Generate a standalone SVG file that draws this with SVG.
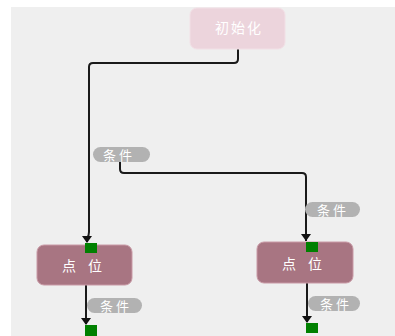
<svg xmlns="http://www.w3.org/2000/svg" width="395" height="336" viewBox="0 0 395 336">
<defs>
<style>
.bg{fill:#efefef}
.init{fill:#ecd4dc;stroke:#f2e0e6;stroke-width:1}
.node{fill:#a87582;stroke:#c99aa6;stroke-width:1}
.ntxt{font-family:"Noto Sans CJK SC","Liberation Sans",sans-serif;font-size:14px;fill:#ffffff;text-anchor:middle}
.itxt{font-family:"Noto Sans CJK SC","Liberation Sans",sans-serif;font-size:14px;fill:#ffffff;text-anchor:middle;letter-spacing:2px}
.pill{fill:#b2b2b2}
.ptxt{font-family:"Noto Sans CJK SC","Liberation Sans",sans-serif;font-size:13px;fill:#ffffff;text-anchor:middle;letter-spacing:3px}
.port{fill:#008000}
.wire{fill:none;stroke:#1a1a1a;stroke-width:2;stroke-linejoin:round}
.head{fill:#111}
</style>
</defs>
<rect x="0" y="0" width="395" height="336" fill="#ffffff"/>
<rect class="bg" x="11" y="7" width="384" height="329"/>

<g id="connectors">
<path class="wire" d="M238,49 V59 Q238,63 234,63 H93 Q89,63 89,67 V232 Q89,236 87,238 V242"/>
<path class="wire" d="M120,158 V169 Q120,173 124,173 H302 Q306,173 306,177 V241"/>
<path class="wire" d="M86,285 V324"/>
<path class="wire" d="M307,283 V322"/>
<path class="head" d="M82,236 L92,236 L87,243 Z"/>
<path class="head" d="M301,234 L311,234 L306,241 Z"/>
<path class="head" d="M81,318 L91,318 L86,325 Z"/>
<path class="head" d="M302,316 L312,316 L307,323 Z"/>
</g>

<g id="init">
<rect class="init" x="190" y="8" width="95" height="41" rx="7"/>
<text class="itxt" x="239" y="33">初始化</text>
</g>

<g id="label1">
<rect class="pill" x="93" y="147" width="57" height="15" rx="7.5"/>
<text class="ptxt" x="119" y="159.5">条件</text>
</g>

<g id="label2">
<rect class="pill" x="305" y="202" width="55" height="15" rx="7.5"/>
<text class="ptxt" x="333" y="214.5">条件</text>
</g>

<g id="node-left">
<rect class="node" x="37" y="245" width="95" height="40" rx="7"/>
<text class="ntxt" x="69" y="271">点</text>
<text class="ntxt" x="95" y="271">位</text>
<rect class="port" x="85" y="243" width="12" height="10"/>
</g>

<g id="node-right">
<rect class="node" x="257" y="242" width="96" height="41" rx="7"/>
<text class="ntxt" x="289" y="269">点</text>
<text class="ntxt" x="315" y="269">位</text>
<rect class="port" x="306" y="242" width="12" height="10"/>
</g>

<g id="label3">
<rect class="pill" x="87" y="298" width="55" height="15" rx="7.5"/>
<text class="ptxt" x="116" y="310.5">条件</text>
</g>

<g id="label4">
<rect class="pill" x="308" y="296" width="52" height="15" rx="7.5"/>
<text class="ptxt" x="336" y="308.5">条件</text>
</g>

<g id="port-left-bottom">
<rect class="port" x="85" y="325" width="12" height="11"/>
</g>
<g id="port-right-bottom">
<rect class="port" x="306" y="323" width="12" height="10"/>
</g>
</svg>
